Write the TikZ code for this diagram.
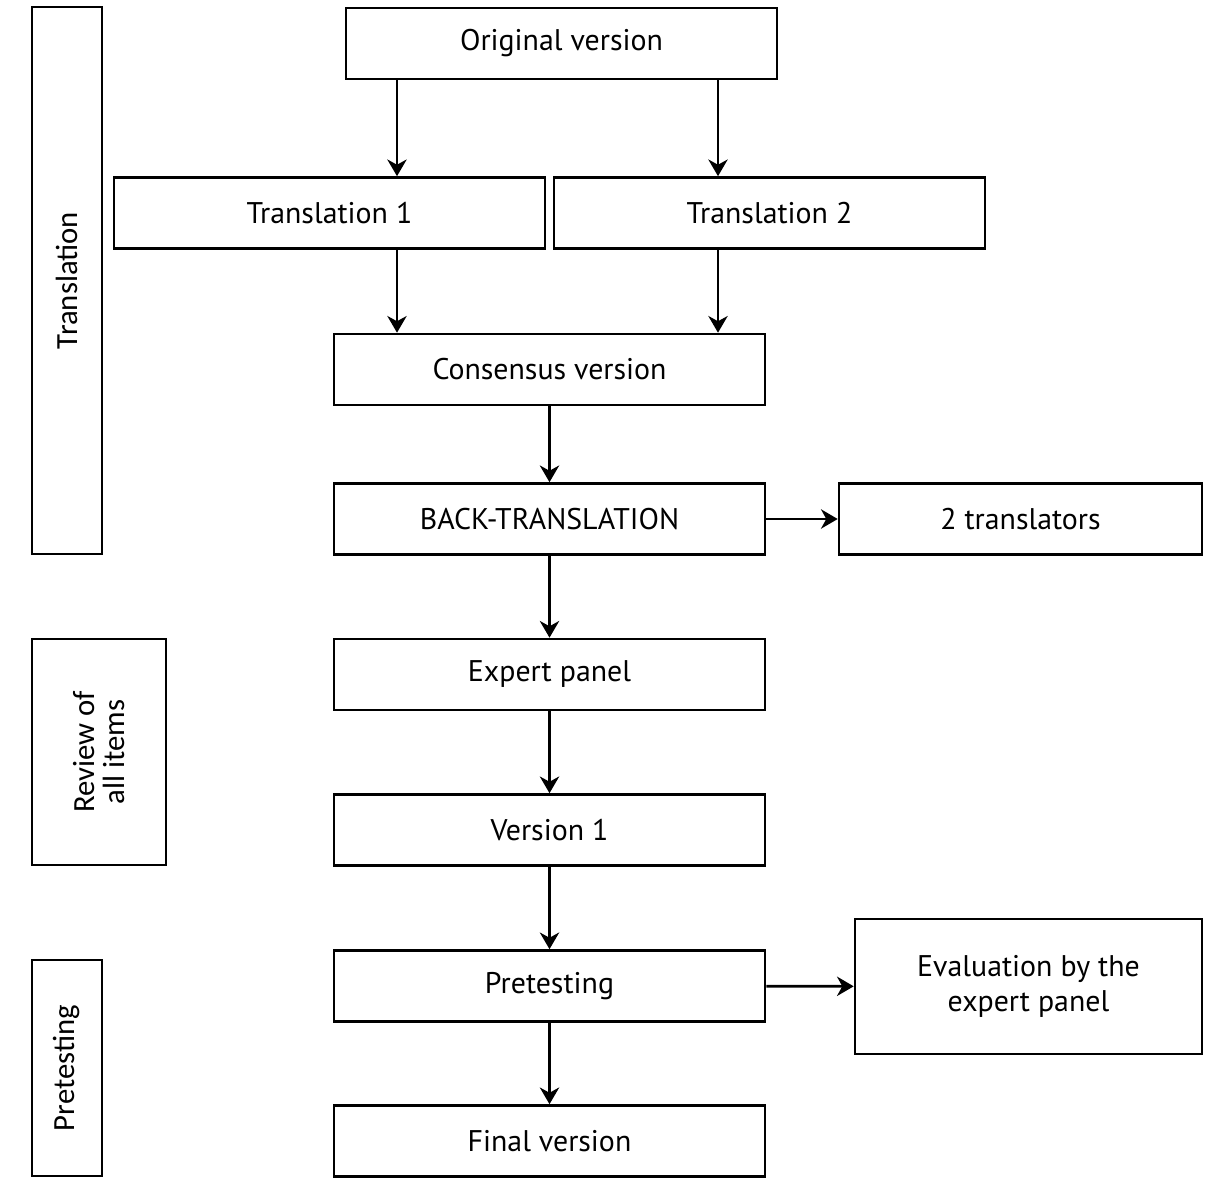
\documentclass[tikz,border=0pt]{standalone}
\usepackage{fontspec}
\setmainfont{PT Sans}
\newfontfamily\sidefont{Carlito}
\usetikzlibrary{arrows.meta}
\begin{document}
\begin{tikzpicture}[x=0.02cm, y=-0.02cm, >={Stealth[length=9.5pt,width=11pt,inset=3pt]},
    box/.style={draw, line width=1.5pt, inner sep=0pt, minimum width=8.62cm, minimum height=1.42cm, font=\fontsize{17}{20}\selectfont},
    side/.style={draw, line width=1.5pt, inner sep=0pt, minimum width=1.4cm},
    sidetext/.style={rotate=90, align=center, font=\sidefont\fontsize{17.5}{17}\selectfont},
    link/.style={->, line width=1.5pt}]
    \useasboundingbox (0,0) rectangle (1223,1186);
    % steps
    \node[box] (orig) at (561.5, 43.5) {Original version};
    \node[box] (trans1) at (329.5, 213) {Translation 1};
    \node[box] (trans2) at (769.5, 213) {Translation 2};
    \node[box] (cons) at (549.5, 369.5) {Consensus version};
    \node[box] (back) at (549.5, 519) {BACK-TRANSLATION};
    \node[box, minimum width=7.26cm] (twotr) at (1020.5, 519) {2 translators};
    \node[box] (expert) at (549.5, 674.5) {Expert panel};
    \node[box] (ver1) at (549.5, 830) {Version 1};
    \node[box] (pretest) at (549.5, 986) {Pretesting};
    \node[box] (final) at (549.5, 1141) {Final version};
    \node[box, minimum width=6.94cm, minimum height=2.7cm, align=center] (eval) at (1028.5, 986.5) {Evaluation by the\\expert panel};
    % phases on the left
    \node[side, minimum height=10.94cm] (phtrans) at (67, 280.5) {};
    \node[sidetext] at (phtrans) {Translation};
    \node[side, minimum width=2.68cm, minimum height=4.52cm] (phreview) at (99, 752) {};
    \node[sidetext] at (phreview) {Review of\\all items};
    \node[side, minimum height=4.32cm] (phpre) at (67, 1068) {};
    \node[sidetext] at (phpre) {Pretesting};
    % arrows
    \draw[link] (orig.south -| 397,0) -- (trans1.north -| 397,0);
    \draw[link] (orig.south -| 718,0) -- (trans2.north -| 718,0);
    \draw[link] (trans1.south -| 397,0) -- (cons.north -| 397,0);
    \draw[link] (trans2.south -| 718,0) -- (cons.north -| 718,0);
    \draw[link] (cons) -- (back);
    \draw[link] (back) -- (twotr);
    \draw[link] (back) -- (expert);
    \draw[link] (expert) -- (ver1);
    \draw[link] (ver1) -- (pretest);
    \draw[link] (pretest) -- (eval);
    \draw[link] (pretest) -- (final);
\end{tikzpicture}
\end{document}
